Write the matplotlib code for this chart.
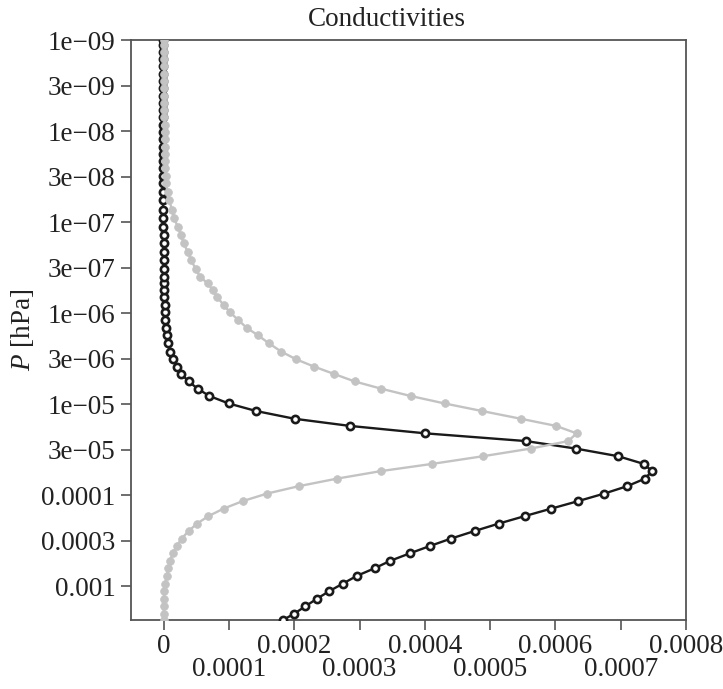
import numpy as np
import matplotlib
matplotlib.use("Agg")
import matplotlib.pyplot as plt
from matplotlib.ticker import FixedLocator, NullLocator

plt.rcParams['font.family'] = ['Liberation Serif', 'DejaVu Serif']
plt.rcParams['mathtext.fontset'] = 'custom'
plt.rcParams['mathtext.rm'] = 'Liberation Serif'
plt.rcParams['mathtext.it'] = 'Liberation Serif:italic'

# log10 of pressure levels [hPa]
log10_p = [-2.55, -2.63, -2.70, -2.78, -2.865, -2.948, -3.03, -3.115, -3.198, -3.28,
           -3.362, -3.442, -3.524, -3.608, -3.689, -3.771, -3.854, -3.936, -4.019, -4.10,
           -4.182, -4.266, -4.345, -4.429, -4.513, -4.595, -4.68, -4.762, -4.84, -4.925,
           -5.008, -5.09, -5.17, -5.25, -5.334, -5.414, -5.493, -5.578, -5.67, -5.758,
           -5.838, -5.93, -6.008, -6.088, -6.173, -6.253, -6.326, -6.40, -6.48, -6.58,
           -6.674, -6.766, -6.857, -6.948, -7.04, -7.132, -7.24, -7.333, -7.425, -7.51,
           -7.59, -7.67, -7.75, -7.83, -7.91, -7.99, -8.07, -8.15, -8.23, -8.31,
           -8.39, -8.47, -8.55, -8.63, -8.71, -8.79, -8.87, -8.94, -9.00]

# black series (open circles), units of 1e-4
black_e4 = [1.65, 1.83, 2.00, 2.17, 2.35, 2.54, 2.745, 2.96, 3.23, 3.47,
            3.77, 4.075, 4.40, 4.765, 5.133, 5.53, 5.94, 6.35, 6.75, 7.10,
            7.37, 7.48, 7.35, 6.96, 6.31, 5.55, 4.01, 2.848, 2.005, 1.417,
            0.997, 0.701, 0.521, 0.383, 0.267, 0.199, 0.138, 0.098, 0.061, 0.046,
            0.037, 0.026, 0.02, 0.015, 0.01, 0.008, 0.006, 0.005, 0.004, 0.003,
            0.002, 0.0, 0.0, -0.005, -0.01, -0.01, -0.01, -0.01, -0.01, -0.01,
            -0.01, -0.01, -0.01, -0.01, -0.01, -0.01, -0.01, -0.01, -0.01, -0.01,
            -0.01, -0.01, -0.01, -0.01, -0.01, -0.01, -0.01, -0.01, -0.01]

# gray series (filled circles), units of 1e-4
gray_e4 = [0.0, 0.0, 0.0, 0.0, 0.0, 0.01, 0.026, 0.046, 0.072, 0.098,
           0.138, 0.199, 0.276, 0.383, 0.512, 0.686, 0.92, 1.212, 1.586, 2.071,
           2.65, 3.334, 4.117, 4.893, 5.624, 6.196, 6.325, 6.008, 5.471, 4.877,
           4.305, 3.784, 3.334, 2.925, 2.603, 2.30, 2.03, 1.80, 1.61, 1.442,
           1.273, 1.135, 1.018, 0.920, 0.824, 0.752, 0.675, 0.558, 0.497, 0.420,
           0.368, 0.307, 0.267, 0.215, 0.164, 0.129, 0.087, 0.061, 0.037, 0.03,
           0.026, 0.022, 0.02, 0.018, 0.016, 0.015, 0.014, 0.013, 0.012, 0.012,
           0.011, 0.011, 0.01, 0.01, 0.01, 0.01, 0.01, 0.01, 0.01]

x_ticks = [0, 0.0001, 0.0002, 0.0003, 0.0004, 0.0005, 0.0006, 0.0007, 0.0008]
x_tick_labels = ['0', '0.0001', '0.0002', '0.0003', '0.0004', '0.0005', '0.0006', '0.0007', '0.0008']
y_tick_exps = [-9, -8.5, -8, -7.5, -7, -6.5, -6, -5.5, -5, -4.5, -4, -3.5, -3]
y_tick_labels = ['1e\u221209', '3e\u221209', '1e\u221208', '3e\u221208', '1e\u221207', '3e\u221207',
                 '1e\u221206', '3e\u221206', '1e\u221205', '3e\u221205', '0.0001', '0.0003', '0.001']

p = 10.0 ** np.array(log10_p)
black = np.array(black_e4) * 1e-4
gray = np.array(gray_e4) * 1e-4

W, H = 723, 689
fig = plt.figure(figsize=(W / 100, H / 100), dpi=100)
L, R, T, B = 131, 686, 40, 620
ax = fig.add_axes([L / W, 1 - B / H, (R - L) / W, (B - T) / H])

ax.plot(black, p, color='#1a1a1a', lw=1.7, marker='o', ms=5.2, mfc='white',
        mec='#1a1a1a', mew=1.9, zorder=3)
ax.plot(gray, p, color='#c3c3c3', lw=1.7, marker='o', ms=5.6, mfc='#c3c3c3',
        mec='#c3c3c3', mew=0.5, zorder=4)

ax.set_yscale('log')
ax.set_xlim(-5.0e-5, 8.0e-4)
ax.set_ylim(10 ** -2.63, 1e-9)

ax.yaxis.set_major_locator(FixedLocator([10.0 ** e for e in y_tick_exps]))
ax.yaxis.set_minor_locator(NullLocator())
ax.set_yticklabels(y_tick_labels)
ax.set_xticks(x_ticks)
ax.set_xticklabels(x_tick_labels)

for s in ax.spines.values():
    s.set_color('#555555')
    s.set_linewidth(1.3)
ax.tick_params(axis='both', which='major', direction='out', length=7, width=1.2,
               color='#555555', labelsize=19.5, labelcolor='#222222')
ax.tick_params(axis='y', pad=4)
ax.tick_params(axis='x', pad=3)
for i, t in enumerate(ax.xaxis.get_major_ticks()):
    if i % 2 == 1:
        t.set_pad(19.5)

fig.text(387 / W, 1 - 19 / H, 'Conductivities', ha='center', va='center',
         fontsize=19.5, color='#222222')
fig.text(22 / W, 1 - 330 / H, r'$\mathit{P}$ [hPa]', ha='center', va='center',
         rotation=90, fontsize=19.5, color='#222222')

fig.savefig('out.png', dpi=100)
